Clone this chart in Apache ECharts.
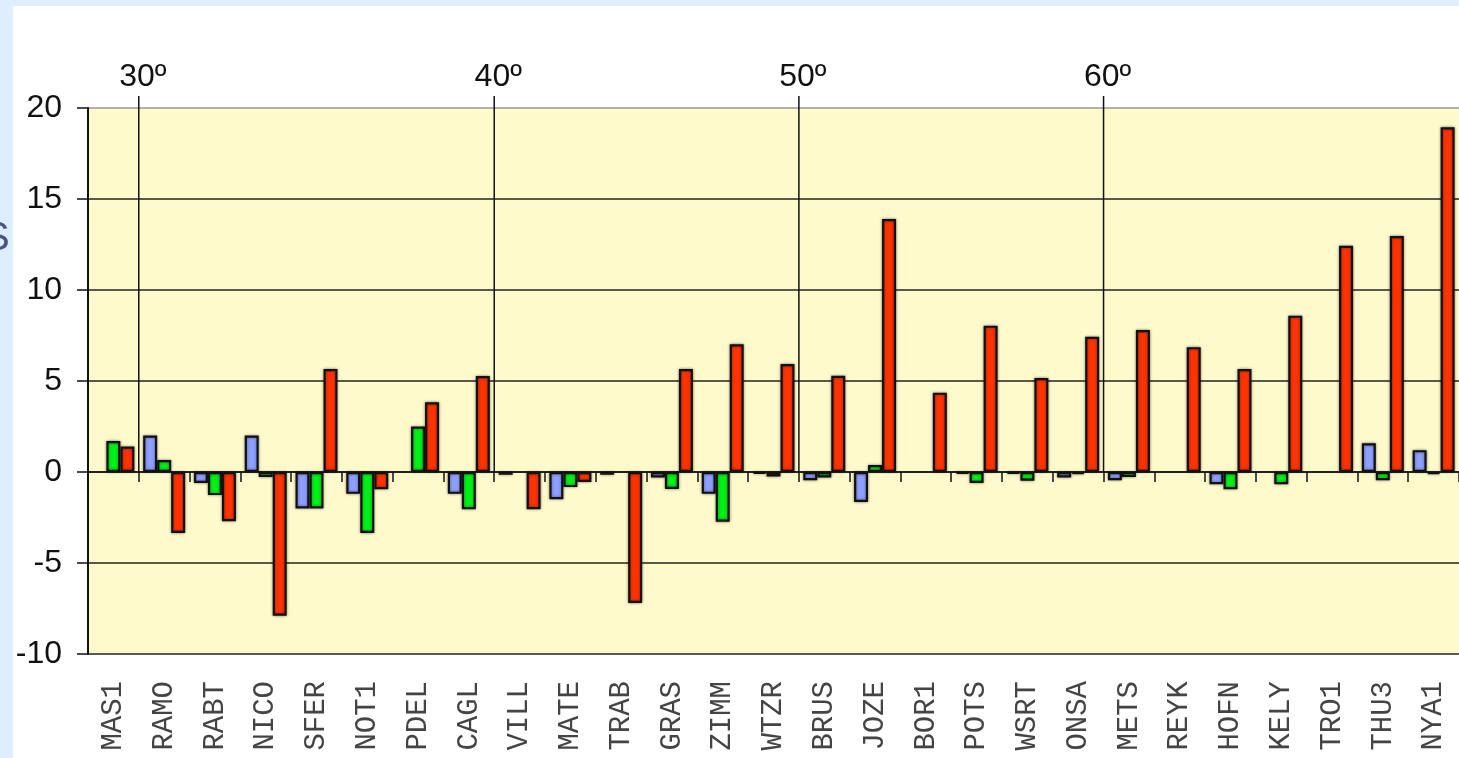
<!DOCTYPE html>
<html>
<head>
<meta charset="utf-8">
<script src="https://cdn.jsdelivr.net/npm/echarts@6/dist/echarts.min.js"></script>
<style>
html,body{margin:0;padding:0;background:#DEEEFF;}
#chart{width:1459px;height:758px;}
</style>
</head>
<body>
<div id="chart"></div>
<script>
const categories = ['MAS1','RAMO','RABT','NICO','SFER','NOT1','PDEL','CAGL','VILL','MATE','TRAB','GRAS','ZIMM','WTZR','BRUS','JOZE','BOR1','POTS','WSRT','ONSA','METS','REYK','HOFN','KELY','TRO1','THU3','NYA1'];
const blueValues  = [null, 2.0, -0.6, 2.0, -2.0, -1.2, null, -1.2, -0.15, -1.5, -0.15, -0.3, -1.2, -0.1, -0.45, -1.65, null, -0.1, -0.1, -0.3, -0.45, null, -0.67, null, null, 1.58, 1.2];
const greenValues = [1.7, 0.66, -1.27, -0.28, -2.0, -3.35, 2.5, -2.05, null, -0.83, null, -0.93, -2.73, -0.25, -0.3, 0.38, null, -0.6, -0.48, -0.12, -0.28, null, -0.95, -0.67, null, -0.45, -0.12];
const redValues   = [1.4, -3.35, -2.7, -7.9, 5.66, -0.95, 3.83, 5.27, -2.05, -0.55, -7.2, 5.66, 7.02, 5.93, 5.29, 13.9, 4.36, 8.04, 5.16, 7.43, 7.8, 6.86, 5.66, 8.59, 12.43, 12.97, 18.94];
// latitude markers: position = category boundary index
const latitudePositions = [1, 8, 14, 20];
const latitudeLabels = ['30º', '40º', '50º', '60º'];
const yTicks = {min: -10, max: 20, interval: 5};

const chart = echarts.init(document.getElementById('chart'));
const barStyle = (c) => ({color: c, borderColor: '#111', borderWidth: 2.2, shadowColor: 'rgba(0,0,0,0.45)', shadowBlur: 3});

chart.setOption({
  animation: false,
  backgroundColor: '#DEEEFF',
  graphic: [
    {type: 'rect', left: 13, top: 6, shape: {width: 1460, height: 760}, style: {fill: '#ffffff'}, z: -10, silent: true},
    {type: 'text', left: -17, top: 219, style: {text: 'S', font: '40px "Liberation Sans"', fill: '#4a5580'}, z: -5, silent: true}
  ],
  grid: {left: 88, right: -6, top: 108, bottom: 104, show: true, backgroundColor: '#FFFACC', borderWidth: 0},
  xAxis: [
    {
      type: 'category', data: categories,
      axisLine: {onZero: true, lineStyle: {color: '#111', width: 1.5}},
      axisTick: {show: true, length: 10, lineStyle: {color: '#111', width: 1.5}},
      axisLabel: {show: false}, splitLine: {show: false}
    },
    {
      type: 'category', data: categories, position: 'bottom',
      axisLine: {show: false, onZero: false},
      axisTick: {show: false},
      axisLabel: {show: true, interval: 0, rotate: 90, margin: 27, fontFamily: '"Liberation Mono", monospace', fontSize: 29, color: '#444'},
      splitLine: {show: false}
    },
    {type: 'value', min: 0, max: categories.length, show: false}
  ],
  yAxis: {
    type: 'value', min: yTicks.min, max: yTicks.max, interval: yTicks.interval,
    axisLine: {show: true, lineStyle: {color: '#111', width: 2}},
    axisTick: {show: true, length: 11, lineStyle: {color: '#111', width: 1.5}},
    axisLabel: {margin: 26, fontFamily: '"Liberation Sans", Arial', fontSize: 32, color: '#111'},
    splitLine: {show: true, lineStyle: {color: ['#222','#222','#222','#222','#222','#222','#999'], width: 1.5}}
  },
  series: [
    {type: 'bar', name: 'blue', xAxisIndex: 0, data: blueValues, barWidth: 14, barGap: '0%', itemStyle: barStyle('#8E9FFF'), z: 3},
    {type: 'bar', name: 'green', xAxisIndex: 0, data: greenValues, barWidth: 14, barGap: '0%', itemStyle: barStyle('#00F018'), z: 3},
    {type: 'bar', name: 'red', xAxisIndex: 0, data: redValues, barWidth: 14, barGap: '0%', itemStyle: barStyle('#FF3300'), z: 3},
    {
      type: 'custom', xAxisIndex: 2, yAxisIndex: 0, z: 2, clip: false,
      data: latitudePositions.map(p => [p, 0]),
      renderItem: function (params, api) {
        const top = api.coord([api.value(0), yTicks.max]);
        const bot = api.coord([api.value(0), 0]);
        return {
          type: 'group',
          children: [
            {type: 'line', shape: {x1: top[0], y1: top[1] - 12, x2: bot[0], y2: bot[1]}, style: {stroke: '#111', lineWidth: 1.5}},
            {type: 'text', style: {text: latitudeLabels[params.dataIndex], x: top[0] + 4, y: top[1] - 31, align: 'center', verticalAlign: 'middle', font: '32px "Liberation Sans"', fill: '#111'}}
          ]
        };
      }
    }
  ]
});
</script>
</body>
</html>
